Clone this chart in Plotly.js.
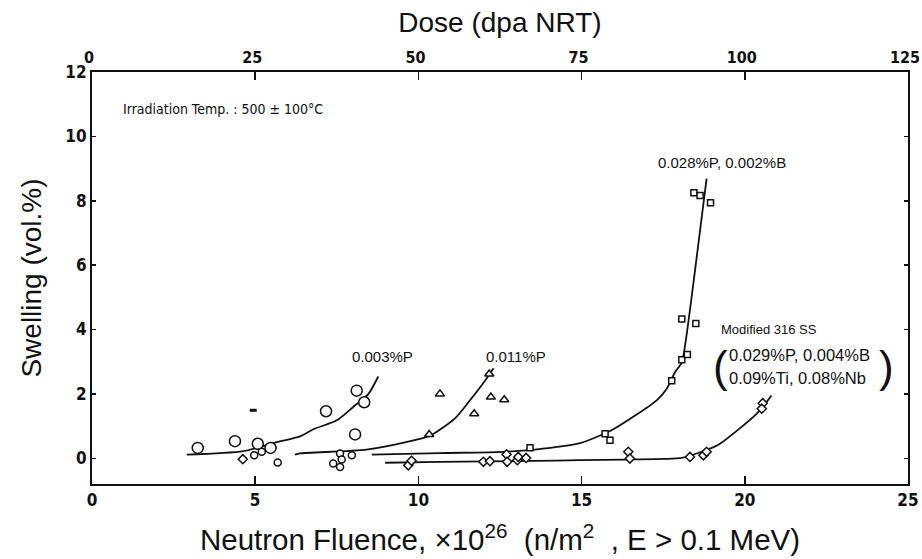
<!DOCTYPE html>
<html>
<head>
<meta charset="utf-8">
<script src="https://cdn.plot.ly/plotly-3.0.1.min.js"></script>
<style>html,body{margin:0;padding:0;background:#fff;}#chart{width:922px;height:559px;}</style>
</head>
<body>
<div id="chart"></div>
<script>
// ---- data ----
// 0.003%P (open circles)
const p003X = [3.24, 4.38, 5.08, 5.47, 7.17, 8.11, 8.34, 8.06];
const p003Y = [0.32, 0.53, 0.45, 0.32, 1.46, 2.10, 1.74, 0.74];
// small open circles near zero swelling
const lowX = [4.97, 5.20, 5.69, 7.60, 7.65, 7.39, 7.60, 7.96];
const lowY = [0.09, 0.20, -0.13, 0.15, -0.04, -0.16, -0.27, 0.09];
// 0.011%P (open triangles)
const p011X = [10.33, 10.66, 11.71, 12.22, 12.63, 12.17];
const p011Y = [0.74, 2.00, 1.38, 1.90, 1.82, 2.62];
// 0.028%P, 0.002%B (open squares)
const p028X = [13.42, 15.72, 15.87, 17.76, 18.07, 18.24, 18.07, 18.50, 18.44, 18.63, 18.95];
const p028Y = [0.33, 0.76, 0.56, 2.41, 3.06, 3.22, 4.33, 4.19, 8.25, 8.16, 7.94];
// Modified 316 SS (open diamonds)
const modX = [4.62, 9.69, 9.79, 11.99, 12.19, 12.70, 12.72, 13.03, 13.06, 13.30, 16.43, 16.48, 18.32, 18.73, 18.83, 20.55, 20.52];
const modY = [-0.03, -0.22, -0.08, -0.11, -0.09, 0.12, -0.11, -0.06, 0.04, 0.01, 0.20, -0.01, 0.04, 0.09, 0.20, 1.71, 1.54];
// stray mark
const strayX = [4.94];
const strayY = [1.49];

// hand-drawn trend curves
const c003X = [2.90, 4.64, 5.66, 6.37, 6.78, 7.50, 8.01, 8.47, 8.77];
const c003Y = [0.11, 0.22, 0.50, 0.68, 0.90, 1.18, 1.60, 2.00, 2.54];
const c011X = [6.22, 6.37, 8.41, 9.95, 10.36, 11.12, 11.58, 12.04, 12.30];
const c011Y = [0.11, 0.15, 0.27, 0.58, 0.70, 1.24, 1.80, 2.41, 2.80];
const c028X = [8.57, 10.66, 12.60, 13.57, 14.95, 15.46, 15.97, 17.30, 17.61, 17.86, 18.07, 18.22, 18.73, 18.83];
const c028Y = [0.11, 0.16, 0.20, 0.27, 0.47, 0.66, 0.90, 1.80, 2.16, 2.67, 2.98, 3.86, 7.89, 8.69];
const cModX = [8.98, 10.66, 13.57, 14.95, 16.28, 17.50, 18.07, 18.99, 19.24, 20.36, 20.82];
const cModY = [-0.14, -0.11, -0.08, -0.06, -0.04, -0.02, 0.01, 0.32, 0.45, 1.38, 1.95];

// axis ticks
const fluenceTicks = [0, 5, 10, 15, 20, 25];
const doseTicks = [0, 25, 50, 75, 100, 125];
const swellTicks = [0, 2, 4, 6, 8, 10, 12];

const FONT = 'Liberation Sans, Arial, Helvetica, sans-serif';
const NARROW = 'Liberation Sans Narrow, DejaVu Sans Condensed, Arial Narrow, sans-serif';
const TICKFONT = {family: NARROW, size: 17, color: '#111', weight: 'bold'};

function curve(x, y) {
  return {x: x, y: y, type: 'scatter', mode: 'lines', showlegend: false, hoverinfo: 'skip',
          line: {color: '#111', width: 1.8, shape: 'spline', smoothing: 0.7}};
}
function pts(x, y, symbol, size) {
  return {x: x, y: y, type: 'scatter', mode: 'markers', showlegend: false,
          marker: {symbol: symbol, size: size, color: '#fff', line: {color: '#111', width: 1.5}}};
}

const data = [
  curve(c003X, c003Y), curve(c011X, c011Y), curve(c028X, c028Y), curve(cModX, cModY),
  pts(p003X, p003Y, 'circle', 11),
  pts(lowX, lowY, 'circle', 7),
  pts(p011X, p011Y, 'triangle-up', 8),
  pts(p028X, p028Y, 'square', 6),
  pts(modX, modY, 'diamond', 7),
  {x: strayX, y: strayY, type: 'scatter', mode: 'markers', showlegend: false,
   marker: {symbol: 'line-ew', size: 5, line: {color: '#111', width: 3}}},
  {x: doseTicks, y: doseTicks.map(() => null), xaxis: 'x2', type: 'scatter', mode: 'markers', showlegend: false, hoverinfo: 'skip'}
];

const ann = (x, y, text, size, extra) => Object.assign({
  x: x, y: y, xref: 'x', yref: 'y', text: text, showarrow: false,
  font: {family: FONT, size: size, color: '#111'}
}, extra || {});

const layout = {
  width: 922, height: 559,
  margin: {l: 92, r: 14, t: 72, b: 75},
  paper_bgcolor: '#fff', plot_bgcolor: '#fff',
  showlegend: false,
  xaxis: {
    range: [0, 25], tickvals: fluenceTicks, ticks: 'inside', ticklen: 8, tickwidth: 1.5, tickcolor: '#111',
    showline: true, linecolor: '#111', linewidth: 2, mirror: 'ticks', showgrid: false, zeroline: false,
    tickfont: TICKFONT, ticklabeloverflow: 'allow',
    title: {text: 'Neutron Fluence, ×10<sup>26</sup>  (n/m<sup>2</sup>  , E > 0.1 MeV)', standoff: 20,
            font: {family: FONT, size: 29.5, color: '#111'}}
  },
  xaxis2: {
    range: [0, 125], tickvals: doseTicks, overlaying: 'x', side: 'top', anchor: 'y',
    ticks: '', showline: false, showgrid: false, zeroline: false,
    tickfont: {family: NARROW, size: 16, color: '#111', weight: 'bold'}, ticklabeloverflow: 'allow',
    ticklabelshift: -3, ticklabelstandoff: 5,
    title: {text: 'Dose (dpa NRT)', standoff: 6, font: {family: FONT, size: 28, color: '#111'}}
  },
  yaxis: {
    range: [-0.8, 12], tickvals: swellTicks, ticks: 'inside', ticklen: 4, tickwidth: 1.5, tickcolor: '#111',
    showline: true, linecolor: '#111', linewidth: 2, mirror: 'ticks', showgrid: false, zeroline: false,
    tickfont: TICKFONT,
    title: {text: 'Swelling (vol.%)', standoff: 16, font: {family: FONT, size: 28, color: '#111'}}
  },
  annotations: [
    {x: 0.036, y: 0.935, xref: 'paper', yref: 'paper', xanchor: 'left', text: 'Irradiation Temp. : 500 ± 100°C',
     showarrow: false, font: {family: NARROW, size: 14, color: '#111'}},
    ann(8.9, 3.15, '0.003%P', 15),
    ann(13.0, 3.15, '0.011%P', 15),
    ann(19.3, 9.2, '0.028%P, 0.002%B', 15),
    ann(19.2, 4.00, 'Modified 316 SS', 13, {xanchor: 'left'}),
    ann(19.45, 3.2, '0.029%P, 0.004%B', 16.5, {xanchor: 'left'}),
    ann(19.45, 2.48, '0.09%Ti, 0.08%Nb', 16.5, {xanchor: 'left'}),
    ann(19.25, 2.84, '(', 44, {font: {family: FONT, size: 44, color: '#111'}}),
    ann(24.35, 2.84, ')', 44, {font: {family: FONT, size: 44, color: '#111'}})
  ]
};

Plotly.newPlot('chart', data, layout, {staticPlot: true, displayModeBar: false});
</script>
</body>
</html>
